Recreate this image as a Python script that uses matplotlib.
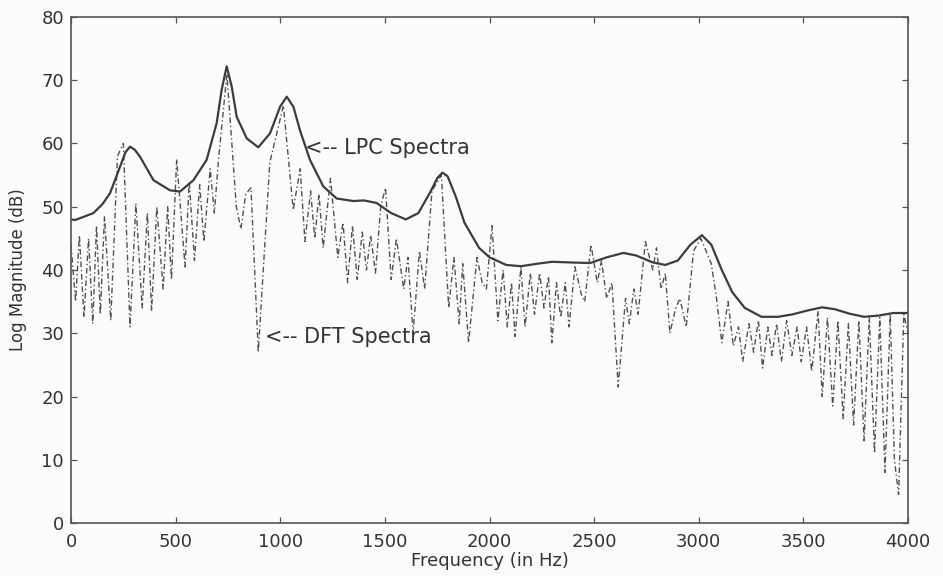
import numpy as np
import matplotlib.pyplot as plt

# LPC envelope
lpc_freq = [0, 19, 60, 107, 150, 186, 234, 260, 282, 305, 330, 394, 473, 521, 585, 648,
            696, 720, 744, 768, 792, 840, 895, 951, 999, 1031, 1063, 1094, 1142, 1206,
            1270, 1350, 1400, 1460, 1530, 1600, 1660, 1720, 1750, 1775, 1800, 1840,
            1880, 1950, 2000, 2080, 2150, 2230, 2300, 2380, 2480, 2560, 2640, 2700,
            2780, 2840, 2900, 2960, 3015, 3060, 3110, 3160, 3220, 3300, 3380, 3450,
            3520, 3590, 3650, 3720, 3790, 3860, 3930, 4000]
lpc_db = [48.0, 47.9, 48.4, 49.0, 50.4, 52.1, 56.3, 58.6, 59.5, 59.0, 57.9, 54.2, 52.6,
          52.4, 54.2, 57.4, 63.2, 68.5, 72.2, 69.0, 64.2, 60.8, 59.4, 61.6, 65.8, 67.4,
          65.8, 62.1, 57.4, 53.2, 51.3, 50.9, 51.0, 50.6, 49.0, 48.0, 49.0, 52.5, 54.5,
          55.4, 54.8, 51.5, 47.5, 43.5, 42.0, 40.8, 40.6, 41.0, 41.3, 41.2, 41.1, 42.0,
          42.7, 42.3, 41.2, 40.8, 41.5, 44.0, 45.5, 44.0, 40.0, 36.5, 34.0, 32.6, 32.6,
          33.0, 33.6, 34.1, 33.8, 33.1, 32.6, 32.8, 33.2, 33.2]

# DFT spectrum, peaks and dips in turn
dft_freq = [0, 22, 40, 62, 84, 104, 122, 140, 160, 190, 222, 250, 282, 310, 340, 365,
            385, 410, 440, 462, 480, 505, 545, 565, 590, 615, 635, 665, 685, 705, 745,
            790, 812, 835, 860, 895, 950, 1015, 1062, 1095, 1118, 1145, 1165, 1185,
            1205, 1240, 1275, 1300, 1322, 1345, 1368, 1392, 1412, 1432, 1455, 1480,
            1503, 1530, 1555, 1590, 1610, 1635, 1665, 1690, 1725, 1770, 1805, 1830,
            1855, 1872, 1900, 1940, 1965, 1985, 2012, 2040, 2065, 2085, 2105, 2122,
            2150, 2170, 2195, 2215, 2240, 2260, 2282, 2298, 2320, 2340, 2362, 2380,
            2408, 2440, 2455, 2485, 2515, 2535, 2560, 2585, 2615, 2650, 2668, 2690,
            2710, 2745, 2780, 2798, 2820, 2840, 2862, 2890, 2910, 2940, 2975, 3010,
            3060, 3085, 3110, 3140, 3165, 3190, 3210, 3240, 3262, 3285, 3305, 3330,
            3350, 3372, 3395, 3420, 3445, 3470, 3490, 3515, 3540, 3570, 3590, 3615,
            3640, 3665, 3690, 3715, 3740, 3765, 3790, 3815, 3840, 3865, 3890, 3915,
            3935, 3955, 3980, 4000]
dft_db = [44, 35, 45.5, 32.5, 45, 31.5, 47, 33, 48.5, 32, 58, 60, 31, 50.5, 34, 49,
          33.5, 50, 37, 50, 38.5, 57.5, 40.5, 54, 41.5, 53.5, 44.5, 56, 49, 57.5, 71,
          50, 46.5, 52, 53, 27, 57, 66, 49.5, 56, 44.5, 52.5, 45, 52,
          43.5, 54.5, 42, 47.5, 38, 47, 38.5, 46, 40, 45.5, 39.5, 50,
          53, 38.5, 45, 37, 42, 30, 43, 37, 52.5, 55, 34, 42,
          31.5, 41, 28.5, 42, 38, 37, 47, 32, 40, 31, 38, 29.5,
          40.5, 31, 39.5, 33, 39.5, 34, 39, 28.5, 38, 32.5, 38, 31,
          40.5, 36, 35, 44, 38, 41.5, 35.5, 38, 21.5, 35.5, 31.5, 37,
          33, 44.5, 40, 43.5, 37, 39.5, 30, 34, 35.5, 31, 43, 45,
          41, 35.5, 28.5, 35, 28, 31, 25.5, 31.5, 27, 32, 24.5, 31,
          26.5, 31.5, 25.5, 32, 26.5, 31, 25.5, 31, 24, 33.5, 20, 32.5,
          18.5, 32, 16.5, 31.5, 15.5, 32, 13, 32.5, 11, 32.5, 8, 33,
          10, 4.5, 33, 30]

xticks = np.arange(0, 4001, 500)
yticks = np.arange(0, 81, 10)

fig = plt.figure(figsize=(9.43, 5.76), dpi=100, facecolor='#fbfcfd')
ax = fig.add_axes([0.0753, 0.092, 0.8876, 0.8785])
ax.set_facecolor('#fbfcfd')

ax.plot(dft_freq, dft_db, color='#505050', lw=1.0, linestyle=(0, (4, 2, 1, 2)))
ax.plot(lpc_freq, lpc_db, color='#3c3c3c', lw=1.6)

ax.set_xlim(0, 4000)
ax.set_ylim(0, 80)
ax.set_xticks(xticks)
ax.set_yticks(yticks)
ax.tick_params(direction='in', top=True, right=True, length=4, width=0.9,
               colors='#555555', labelcolor='#333333', labelsize=13)
ax.tick_params(axis='x', pad=7)
ax.tick_params(axis='y', pad=5)
for s in ax.spines.values():
    s.set_color('#555555')
    s.set_linewidth(1.2)

ax.set_xlabel('Frequency (in Hz)', fontsize=13, color='#333333', labelpad=1)
ax.set_ylabel('Log Magnitude (dB)', fontsize=12, color='#333333', labelpad=10)

ax.text(1120, 59.3, '<-- LPC Spectra', fontsize=15, color='#333333', va='center')
ax.text(927, 29.4, '<-- DFT Spectra', fontsize=15, color='#333333', va='center')

fig.savefig('out.png', dpi=100, facecolor=fig.get_facecolor())
